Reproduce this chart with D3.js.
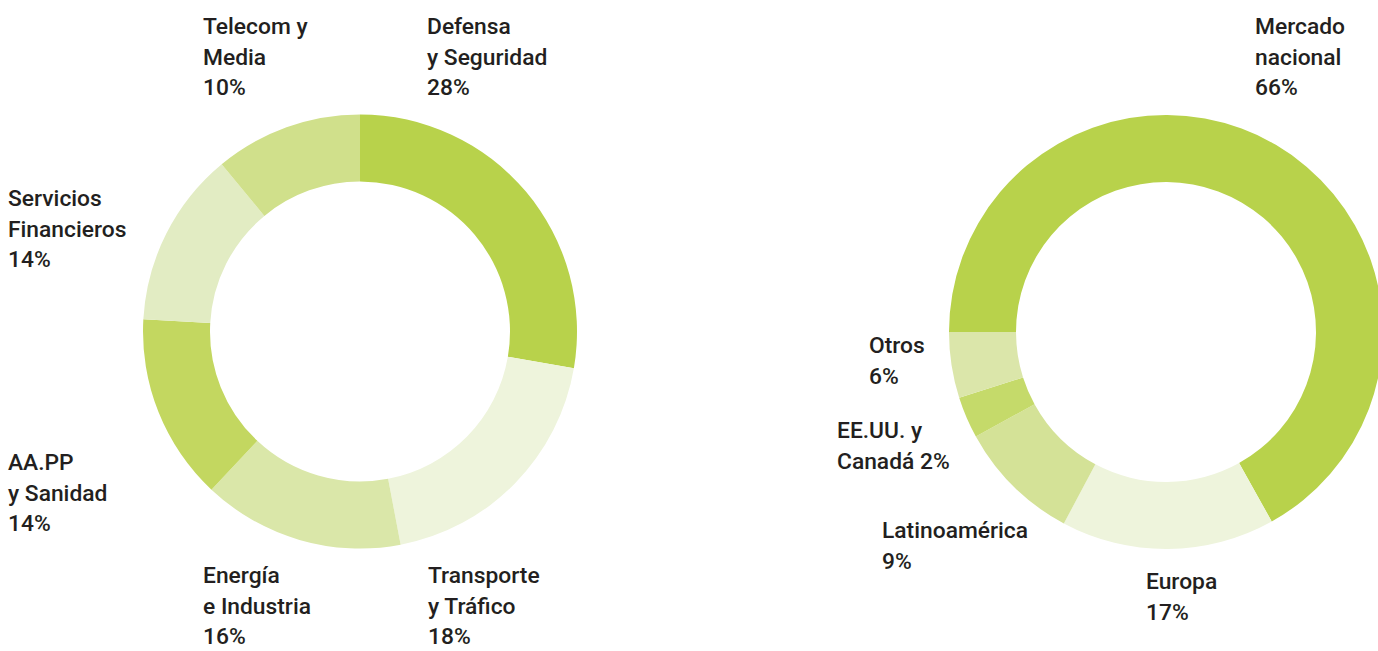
<!DOCTYPE html>
<html>
<head>
<meta charset="utf-8">
<script src="https://cdn.jsdelivr.net/npm/d3@7"></script>
<style>
  html, body { margin: 0; padding: 0; background: #fff; }
  svg text { font-family: Roboto, "DejaVu Sans", sans-serif; font-weight: 500; fill: #231f20; }
</style>
</head>
<body>
<div id="chart"></div>
<script>
// sectores (izquierda)
const sectorNames = [
  ["Defensa", "y Seguridad"],
  ["Transporte", "y Tráfico"],
  ["Energía", "e Industria"],
  ["AA.PP", "y Sanidad"],
  ["Servicios", "Financieros"],
  ["Telecom y", "Media"]
];
const sectorLabels = ["28%", "18%", "16%", "14%", "14%", "10%"];
// tamaño de los arcos tal como se ve en la imagen
const sectorShares = [27.7, 19.3, 15.0, 13.9, 13.1, 11.0];
const sectorColors = ["#b8d24b", "#eef4dc", "#dae7a9", "#c3d760", "#e2ecc3", "#d0e08b"];

// mercados (derecha)
const marketNames = [
  ["Mercado", "nacional"],
  ["Europa"],
  ["Latinoamérica"],
  ["EE.UU. y"],
  ["Otros"]
];
const marketLabels = ["66%", "17%", "9%", "Canadá 2%", "6%"];
const marketShares = [66.9, 15.9, 9.2, 3.1, 4.9];
const marketColors = ["#b8d24b", "#eef4dc", "#d4e297", "#c5da6a", "#dbe6aa"];

const width = 1378;
const height = 651;
const outerR = 217;
const innerR = 150;
const lineH = 30.5;

// posición de las etiquetas (x izquierda, línea base de la primera línea)
const sectorLabelPos = [[427, 34], [428, 583], [203, 583], [8, 470], [8, 206], [203, 34]];
const marketLabelPos = [[1255, 34], [1146, 589], [882, 538], [837, 438], [869, 353]];

const svg = d3.select("#chart")
  .append("svg")
  .attr("width", width)
  .attr("height", height);

const arc = d3.arc().innerRadius(innerR).outerRadius(outerR);

const drawDonut = (cx, cy, shares, colors, startAngle, names, labels, pos) => {
  const pie = d3.pie()
    .sort(null)
    .value((d) => d)
    .startAngle(startAngle)
    .endAngle(startAngle + 2 * Math.PI);

  const g = svg.append("g").attr("transform", `translate(${cx},${cy})`);

  g.selectAll("path")
    .data(pie(shares))
    .join("path")
    .attr("d", arc)
    .attr("fill", (d, i) => colors[i]);

  const lab = svg.append("g")
    .selectAll("text")
    .data(names)
    .join("text")
    .attr("x", (d, i) => pos[i][0])
    .attr("y", (d, i) => pos[i][1])
    .attr("font-size", 22.8);

  lab.each(function (d, i) {
    const t = d3.select(this);
    d.concat([labels[i]]).forEach((line, k) => {
      t.append("tspan")
        .attr("x", pos[i][0])
        .attr("dy", k === 0 ? 0 : lineH)
        .text(line);
    });
  });
};

drawDonut(360, 331.5, sectorShares, sectorColors, 0, sectorNames, sectorLabels, sectorLabelPos);
drawDonut(1166, 332, marketShares, marketColors, -Math.PI / 2, marketNames, marketLabels, marketLabelPos);
</script>
</body>
</html>
